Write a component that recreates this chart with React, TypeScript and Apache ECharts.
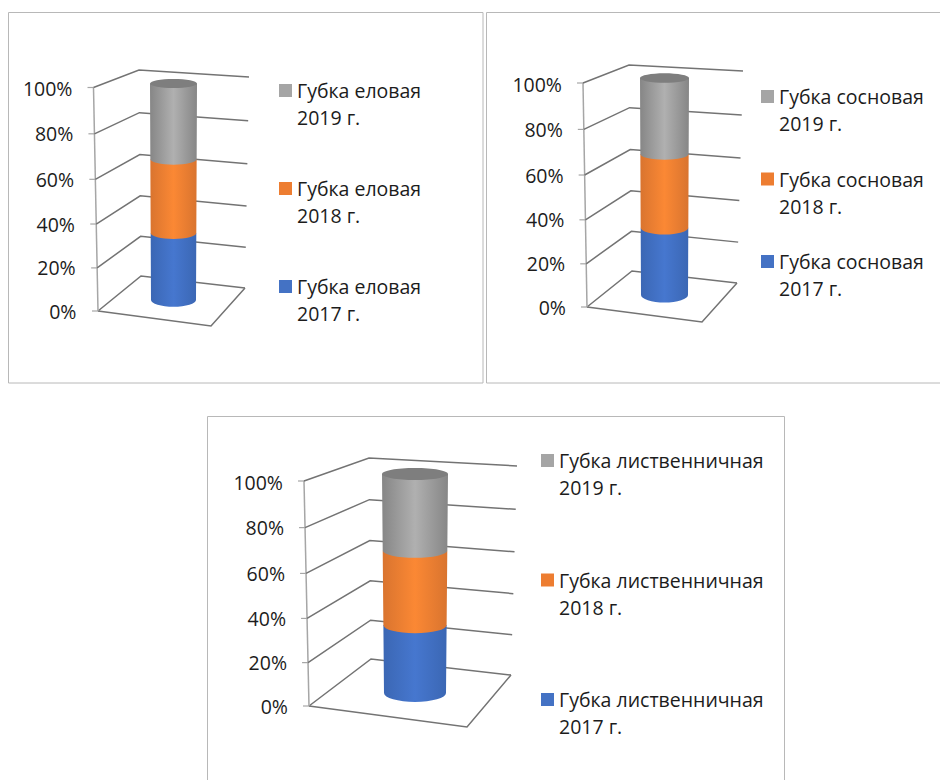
import React, { useEffect, useRef } from "react";
import * as echarts from "echarts";

// Shares of the three survey years, bottom to top of each column (percent).
const spruceShares = [31, 34, 35];
const pineShares = [31, 34, 35];
const larchShares = [31, 34, 35];
const years = ["2017 г.", "2018 г.", "2019 г."];
const speciesNames = ["Губка еловая", "Губка сосновая", "Губка лиственничная"];
const axisTicks = [0, 20, 40, 60, 80, 100];

const FONT = "'Open Sans', sans-serif";
const TEXT = "#1c1c1c";
const FONT_SIZE = 19.5;
const segmentColors = [
  { edge: "#3b67b4", mid: "#4677cf", flat: "#4472c4" },
  { edge: "#d9742f", mid: "#fb8834", flat: "#ed7d31" },
  { edge: "#868686", mid: "#b0b0b0", flat: "#a5a5a5" },
];
// Strength of the foreshortening of the walls between floor and top.
const SAG = 0.045;

type Pt = [number, number];
// Projection of the box: every corner is given at 0% and at 100% and blended by height.
interface Box {
  axis0: Pt; axis100: Pt;
  back0: Pt; back100: Pt;
  right0: Pt; right100: Pt;
  front: Pt;
  cx: number; rx0: number; rx100: number;
  cy0: number; cy100: number; ry0: number; ry100: number;
  labelGap: number; labelShift: number;
  legendX: number; legendY: number; legendGap: number;
  shares: number[];
}

const boxes: Box[] = [
  {
    axis0: [98, 311], axis100: [93.5, 87.5],
    back0: [141, 276], back100: [139, 70],
    right0: [245, 288], right100: [249, 77],
    front: [211, 326],
    cx: 173.5, rx0: 22.5, rx100: 23.5,
    cy0: 300, cy100: 83.5, ry0: 6.8, ry100: 4.6,
    labelGap: 21, labelShift: 4,
    legendX: 279, legendY: 50, legendGap: 17,
    shares: spruceShares,
  },
  {
    axis0: [587, 307], axis100: [583, 83],
    back0: [632, 271], back100: [629, 65],
    right0: [737, 283], right100: [743, 71],
    front: [702, 322],
    cx: 664.5, rx0: 23.5, rx100: 24.5,
    cy0: 295, cy100: 78, ry0: 7.5, ry100: 4.8,
    labelGap: 21, labelShift: 4,
    legendX: 761, legendY: 56, legendGap: 1.5,
    shares: pineShares,
  },
  {
    axis0: [309, 706], axis100: [304, 481],
    back0: [371, 659], back100: [369, 458],
    right0: [511, 675], right100: [517, 466],
    front: [467, 727],
    cx: 415, rx0: 31, rx100: 33,
    cy0: 693, cy100: 474, ry0: 9, ry100: 6,
    labelGap: 21, labelShift: 5,
    legendX: 541, legendY: 420, legendGap: 38.5,
    shares: larchShares,
  },
];

const mix = (a: Pt, b: Pt, t: number): Pt => [a[0] + (b[0] - a[0]) * t, a[1] + (b[1] - a[1]) * t];
const lerp = (a: number, b: number, t: number) => a + (b - a) * t;
const sag = (t: number) => t - SAG * t * (1 - t);

const option = () => {
  const grids: any[] = [];
  const xAxes: any[] = [];
  const yAxes: any[] = [];
  const series: any[] = [];
  const legends: any[] = [];

  boxes.forEach((b, i) => {
    const top = b.axis100[1];
    const height = b.axis0[1] - b.axis100[1];
    const heightAt = (v: number, api: any) => (top + height - api.coord([0, v])[1]) / height;

    grids.push({ left: b.axis100[0], top, width: 120, height });
    xAxes.push({ type: "category", gridIndex: i, show: false, data: ["0"] });
    const rich: any = {};
    axisTicks.forEach((v) => {
      const t = v / 100;
      const drop = (t - sag(t)) * height + (v === 100 ? 1 : 0);
      rich["t" + v] = {
        fontFamily: FONT,
        fontSize: FONT_SIZE,
        color: TEXT,
        padding: [2 * drop, b.labelShift * t, 0, 0],
      };
    });
    yAxes.push({
      type: "value",
      gridIndex: i,
      min: 0,
      max: 100,
      interval: 20,
      axisLine: { show: false },
      axisTick: { show: false },
      splitLine: { show: false },
      axisLabel: {
        margin: b.labelGap - b.labelShift,
        formatter: (v: number) => `{t${v}|${v}%}`,
        rich,
      },
    });

    // Walls, floor and ticks sit behind the column.
    series.push({
      type: "custom",
      name: "frame" + i,
      xAxisIndex: i,
      yAxisIndex: i,
      silent: true,
      z: 1,
      data: axisTicks.map((v) => [0, v]),
      encode: { x: 0, y: 1 },
      renderItem: (_: any, api: any) => {
        const t = sag(heightAt(api.value(1), api));
        const a = mix(b.axis0, b.axis100, t);
        const k = mix(b.back0, b.back100, t);
        const r = mix(b.right0, b.right100, t);
        const children: any[] = [
          {
            type: "line",
            shape: { x1: a[0] - 6, y1: a[1], x2: a[0], y2: a[1] },
            style: { stroke: "#a6a6a6", lineWidth: 1.2 },
          },
          {
            type: "polyline",
            shape: { points: [a, k, r] },
            style: { stroke: "#737373", lineWidth: 1.5, fill: "none" },
          },
        ];
        if (t === 0) {
          children.push({
            type: "polyline",
            shape: { points: [r, b.front, a] },
            style: { stroke: "#737373", lineWidth: 1.5, fill: "none" },
          });
          children.push({
            type: "line",
            shape: { x1: b.axis0[0], y1: b.axis0[1], x2: b.axis100[0], y2: b.axis100[1] },
            style: { stroke: "#a6a6a6", lineWidth: 1.5 },
          });
        }
        return { type: "group", children };
      },
    });

    // One cylinder section per year, stacked; each upper section overlaps the one below.
    let floor = 0;
    b.shares.forEach((share, s) => {
      const name = `${speciesNames[i]} ${years[s]}`;
      const colors = segmentColors[s];
      const isTop = s === b.shares.length - 1;
      series.push({
        type: "custom",
        name,
        xAxisIndex: i,
        yAxisIndex: i,
        silent: true,
        z: 2 + s,
        itemStyle: { color: colors.flat },
        data: [[0, floor, floor + share]],
        encode: { x: 0, y: [1, 2] },
        renderItem: (_: any, api: any) => {
          const t0 = heightAt(api.value(1), api);
          const t1 = heightAt(api.value(2), api);
          const y0 = lerp(b.cy0, b.cy100, t0);
          const y1 = lerp(b.cy0, b.cy100, t1);
          const rx0 = lerp(b.rx0, b.rx100, t0);
          const rx1 = lerp(b.rx0, b.rx100, t1);
          const ry0 = lerp(b.ry0, b.ry100, t0);
          const ry1 = lerp(b.ry0, b.ry100, t1);
          const children: any[] = [
            {
              type: "path",
              shape: {
                pathData:
                  `M ${b.cx - rx1} ${y1} L ${b.cx + rx1} ${y1} L ${b.cx + rx0} ${y0} ` +
                  `A ${rx0} ${ry0} 0 0 1 ${b.cx - rx0} ${y0} Z`,
              },
              style: {
                fill: {
                  type: "linear",
                  x: 0, y: 0, x2: 1, y2: 0,
                  colorStops: [
                    { offset: 0, color: colors.edge },
                    { offset: 0.5, color: colors.mid },
                    { offset: 1, color: colors.edge },
                  ],
                },
              },
            },
          ];
          if (isTop) {
            children.push({
              type: "ellipse",
              shape: { cx: b.cx, cy: y1, rx: rx1, ry: ry1 },
              style: { fill: "#7e7e7e" },
            });
          }
          return { type: "group", children };
        },
      });
      floor += share;
    });

    legends.push({
      orient: "vertical",
      left: b.legendX,
      top: b.legendY,
      padding: 0,
      itemWidth: 13,
      itemHeight: 13,
      itemGap: b.legendGap,
      selectedMode: false,
      icon: "rect",
      textStyle: { fontFamily: FONT, fontSize: FONT_SIZE, lineHeight: 27, color: TEXT },
      // The empty first line keeps the swatch level with the species name.
      formatter: (n: string) => {
        const cut = n.lastIndexOf(" ", n.length - 4);
        return `\n${n.slice(0, cut)}\n${n.slice(cut + 1)}`;
      },
      data: years
        .map((y, s) => ({
          name: `${speciesNames[i]} ${y}`,
          itemStyle: { color: segmentColors[s].flat },
        }))
        .reverse(),
    });
  });

  const panel = (x: number, y: number, width: number, height: number) => ({
    type: "rect",
    silent: true,
    z: -1,
    shape: { x, y, width, height },
    style: { fill: "#ffffff", stroke: "#b8b8b8", lineWidth: 1 },
  });

  return {
    animation: false,
    backgroundColor: "#ffffff",
    graphic: [
      panel(8.5, 12.5, 474.5, 370.5),
      panel(486.5, 12.5, 470, 370.5),
      panel(207.5, 416.5, 577, 380),
    ],
    grid: grids,
    xAxis: xAxes,
    yAxis: yAxes,
    legend: legends,
    series,
  };
};

export default function App() {
  const ref = useRef<HTMLDivElement>(null);
  useEffect(() => {
    const chart = echarts.init(ref.current!, undefined, { renderer: "svg" });
    chart.setOption(option() as any);
    return () => chart.dispose();
  }, []);
  return (
    <div
      ref={ref}
      style={{ position: "absolute", left: 0, top: 0, width: 940, height: 780 }}
    />
  );
}
